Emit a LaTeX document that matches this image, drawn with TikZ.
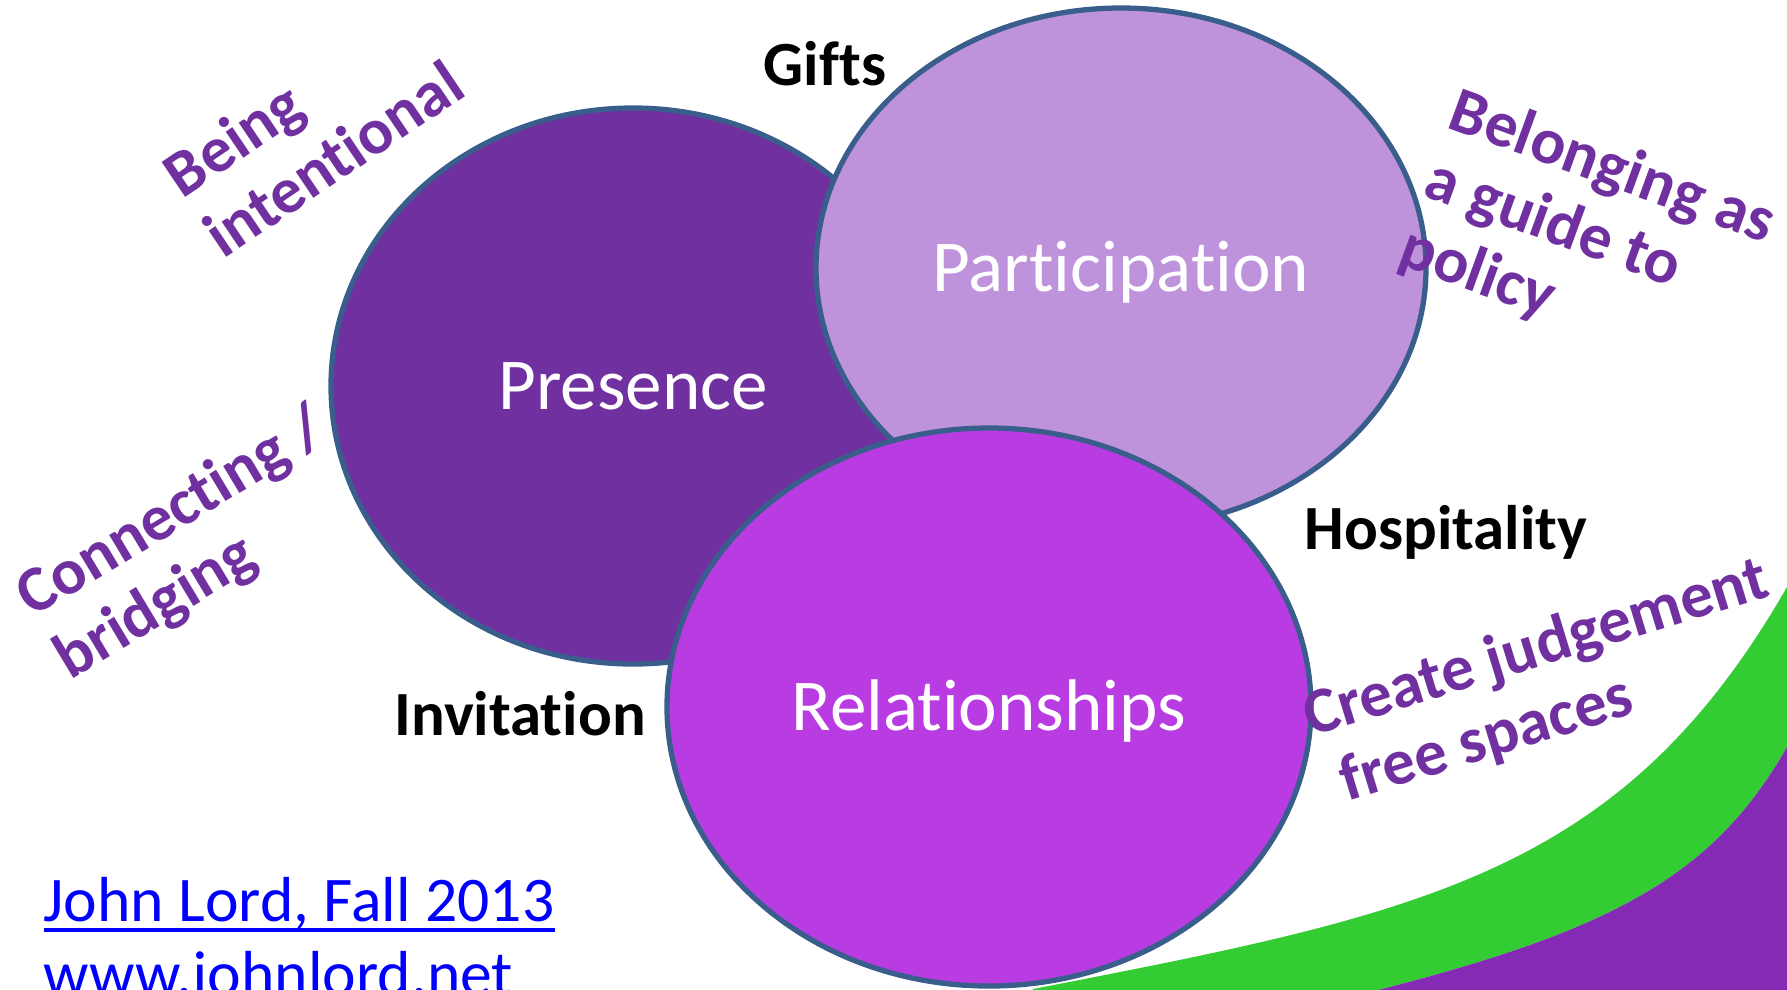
\documentclass[tikz,border=0pt]{standalone}
\usepackage{fontspec}
\setmainfont{Carlito}[Ligatures=NoCommon]
\usetikzlibrary{shapes.geometric}

\definecolor{edgeblue}{RGB}{58,94,140}
\definecolor{presfill}{RGB}{112,48,160}
\definecolor{partfill}{RGB}{190,147,220}
\definecolor{relfill}{RGB}{185,60,226}
\definecolor{labelpurple}{RGB}{112,48,160}
\definecolor{swoosh}{RGB}{51,204,51}
\definecolor{deeppurple}{RGB}{132,42,180}
\definecolor{linkblue}{RGB}{0,0,255}

\newcommand{\lordline}[1]{\setbox0\hbox{#1}\rlap{\rule[-0.11cm]{\wd0}{0.04cm}}\box0}

\tikzset{
 circ/.style={ellipse, draw=edgeblue, line width=1.5pt, text=white, inner sep=0pt,
   font=\fontsize{20.8}{25}\selectfont, text height=0.47cm, text depth=0pt},
 word/.style={font=\bfseries\fontsize{17.9}{22}\selectfont, anchor=base, inner sep=0pt},
 idea/.style={font=\bfseries\fontsize{18.5}{20.7}\selectfont, text=labelpurple, align=left, inner sep=0pt},
 link/.style={font=\fontsize{18.1}{22}\selectfont, text=linkblue, anchor=base west, inner sep=0pt}
}

\begin{document}
\begin{tikzpicture}
 \clip (0, 0) rectangle (17.87, -9.89);
 \useasboundingbox (0, 0) rectangle (17.87, -9.89);

 \fill[swoosh] (10.33,-9.89) .. controls (14.25,-9.13) and (16.22,-8.74) .. (17.87,-5.87)
   -- (17.87,-7.47) .. controls (17.12,-8.78) and (16.10,-9.33) .. (13.50,-9.97)
   -- (10.33,-9.97) -- cycle;
 \fill[deeppurple] (17.87,-7.47) .. controls (17.12,-8.78) and (16.10,-9.33) .. (13.50,-9.97)
   -- (17.87,-9.97) -- cycle;

 \draw (6.33, -3.86) node[circ, fill=presfill, minimum width=6.04cm, minimum height=5.56cm] (presence) {Presence};
 \draw (11.21, -2.68) node[circ, fill=partfill, minimum width=6.10cm, minimum height=5.20cm] (participation) {Participation};
 \draw (9.89, -7.07) node[circ, fill=relfill, minimum width=6.44cm, minimum height=5.58cm] (relationships) {Relationships};

 \draw (8.25, -0.85) node[word] (gifts) {Gifts};
 \draw (14.46, -5.49) node[word] (hospitality) {Hospitality};
 \draw (5.20, -7.35) node[word] (invitation) {Invitation};

 \draw (3.13, -1.28) node[idea, rotate=34] (intentional) {Being\\intentional};
 \draw (1.91, -5.45) node[idea, rotate=31] (bridging) {Connecting /\\bridging};
 \draw (15.87, -2.37) node[idea, rotate=-20] (belonging) {Belonging as\\a guide to\\policy};
 \draw (15.47, -6.84) node[idea, rotate=17] (judgement) {Create judgement\\\hspace*{0.16cm}free spaces};

 \draw (0.43, -9.21) node[link] (lord) {\lordline{John Lord, Fall 2013}};
 \draw (0.43, -9.95) node[link] (site) {www.johnlord.net};
\end{tikzpicture}
\end{document}
